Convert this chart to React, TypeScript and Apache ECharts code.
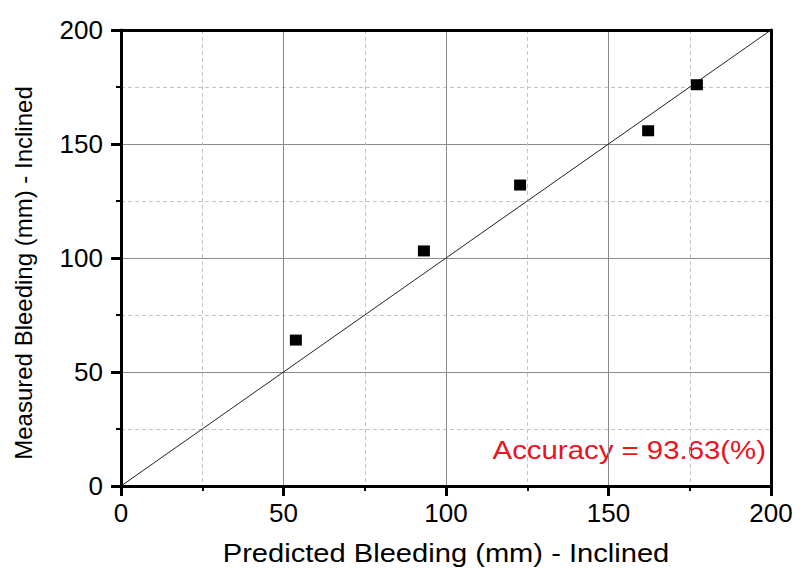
import React, { useEffect, useRef } from "react";
import * as echarts from "echarts";

const predicted = [53.8, 93.2, 122.8, 162.2, 177.2];
const measured = [64.0, 103.1, 132.0, 155.8, 176.0];
const identityLine = [[0, 0], [200, 200]];
const xTitle = "Predicted Bleeding (mm) - Inclined";
const yTitle = "Measured Bleeding (mm) - Inclined";
const accuracyText = "Accuracy = 93.63(%)";

export default function App() {
  const ref = useRef<HTMLDivElement>(null);
  useEffect(() => {
    if (!ref.current) return;
    const chart = echarts.init(ref.current, null, { renderer: "svg" });
    const font = "Liberation Sans, Arial, sans-serif";
    const mainAxis = (isX: boolean) => ({
      type: "value",
      min: 0,
      max: 200,
      interval: 50,
      position: isX ? "bottom" : "left",
      axisLine: { show: true, onZero: false, lineStyle: { color: "#000", width: 3 } },
      axisTick: { show: true, inside: false, length: 10, lineStyle: { color: "#000", width: 3 } },
      minorTick: { show: true, splitNumber: 2, length: 5, lineStyle: { color: "#000", width: 2 } },
      axisLabel: { color: "#000", fontSize: 26, fontFamily: font, margin: isX ? 14 : 18 },
      splitLine: { show: true, lineStyle: { color: "#8a8a8a", width: 1 } },
      minorSplitLine: { show: true, lineStyle: { color: "#c4c4c4", width: 1, type: [4, 3] } },
    });
    const borderAxis = (isX: boolean) => ({
      type: "value",
      min: 0,
      max: 200,
      interval: 50,
      position: isX ? "top" : "right",
      axisLine: { show: true, onZero: false, lineStyle: { color: "#000", width: 3 } },
      axisTick: { show: false },
      axisLabel: { show: false },
      splitLine: { show: false },
    });
    chart.setOption({
      animation: false,
      backgroundColor: "#fff",
      grid: { left: 121, right: 37, top: 30, bottom: 82, containLabel: false },
      xAxis: [mainAxis(true), borderAxis(true)],
      yAxis: [mainAxis(false), borderAxis(false)],
      series: [
        {
          type: "line",
          data: identityLine,
          showSymbol: false,
          symbol: "none",
          lineStyle: { color: "#222", width: 1 },
          silent: true,
          z: 3,
        },
        {
          type: "scatter",
          data: predicted.map((x, i) => [x, measured[i]]),
          symbol: "rect",
          symbolSize: [12, 11],
          itemStyle: { color: "#000", opacity: 1 },
          z: 4,
        },
      ],
      graphic: [
        {
          type: "text",
          x: 446,
          y: 553,
          scaleX: 1.12,
          style: {
            text: xTitle,
            font: `26px ${font}`,
            fill: "#000",
            align: "center",
            verticalAlign: "middle",
          },
        },
        {
          type: "text",
          x: 23,
          y: 273,
          rotation: Math.PI / 2,
          style: {
            text: yTitle,
            font: `24px ${font}`,
            fill: "#000",
            align: "center",
            verticalAlign: "middle",
          },
        },
        {
          type: "text",
          x: 766,
          y: 450,
          scaleX: 1.13,
          style: {
            text: accuracyText,
            font: `26px ${font}`,
            fill: "#e8141e",
            align: "right",
            verticalAlign: "middle",
          },
        },
      ],
    });
    return () => chart.dispose();
  }, []);
  return <div ref={ref} style={{ width: 808, height: 568, position: "absolute", left: 0, top: 0 }} />;
}
